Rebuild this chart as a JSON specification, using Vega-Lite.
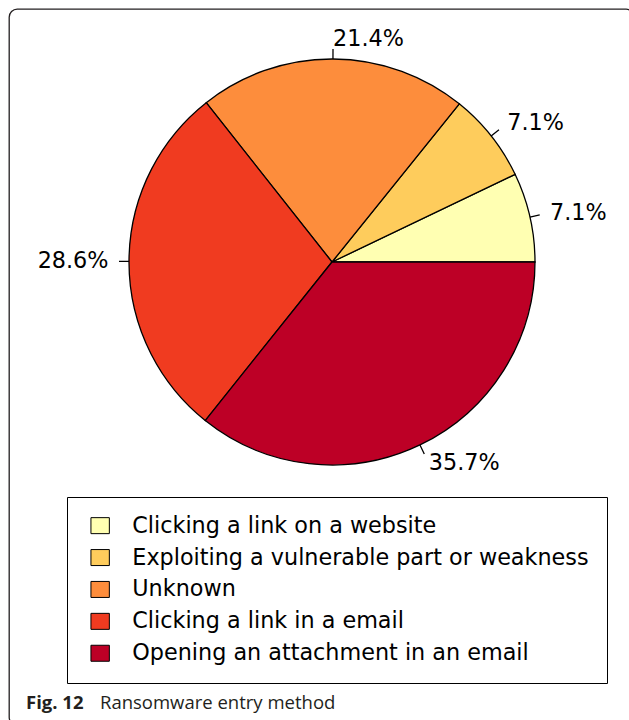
{
  "$schema": "https://vega.github.io/schema/vega-lite/v6.json",
  "width": 625,
  "height": 716,
  "autosize": {"type": "none"},
  "padding": {"left": 9, "top": 9, "right": -5, "bottom": -5},
  "background": "white",
  "view": {"stroke": "#231f20", "strokeWidth": 1.3, "cornerRadius": 8, "fill": "white"},
  "data": {
    "values": [
      {"id": 1, "method": "Clicking a link on a website", "percent": 7.1, "label": "7.1%"},
      {"id": 2, "method": "Exploiting a vulnerable part or weakness", "percent": 7.1, "label": "7.1%"},
      {"id": 3, "method": "Unknown", "percent": 21.4, "label": "21.4%"},
      {"id": 4, "method": "Clicking a link in a email", "percent": 28.6, "label": "28.6%"},
      {"id": 5, "method": "Opening an attachment in an email", "percent": 35.7, "label": "35.7%"}
    ]
  },
  "title": {
    "text": "Ransomware entry method",
    "subtitle": "Fig. 12",
    "orient": "bottom",
    "anchor": "start",
    "frame": "group",
    "font": "Open Sans",
    "fontSize": 18.5,
    "fontWeight": "normal",
    "color": "#231f20",
    "subtitleFont": "Open Sans",
    "subtitleFontSize": 18.5,
    "subtitleFontWeight": "bold",
    "subtitleColor": "#231f20",
    "subtitlePadding": -18.5,
    "offset": -31,
    "dx": 17,
    "encoding": {"dx": {"value": 91}}
  },
  "encoding": {
    "theta": {"field": "percent", "type": "quantitative", "stack": true, "scale": {"range": [-4.712389, 1.570796]}},
    "order": {"field": "id", "type": "quantitative", "sort": "descending"}
  },
  "layer": [
    {
      "mark": {"type": "arc", "outerRadius": 203, "stroke": "black", "strokeWidth": 1.3, "xOffset": 10.5, "yOffset": -105},
      "encoding": {
        "color": {
          "field": "method",
          "type": "nominal",
          "scale": {
            "domain": ["Clicking a link on a website", "Exploiting a vulnerable part or weakness", "Unknown", "Clicking a link in a email", "Opening an attachment in an email"],
            "range": ["#FFFFB2", "#FECC5C", "#FD8D3C", "#F03B20", "#BD0026"]
          },
          "legend": {
            "orient": "none",
            "legendX": 58,
            "legendY": 488,
            "title": null,
            "direction": "vertical",
            "strokeColor": "black",
            "padding": 17.5,
            "symbolType": "M-1.15,-1H1.15V1H-1.15Z",
            "symbolSize": 256,
            "symbolStrokeColor": "black",
            "symbolStrokeWidth": 1,
            "symbolOpacity": 1,
            "symbolOffset": 4.5,
            "labelFont": "DejaVu Sans",
            "labelFontSize": 22.3,
            "labelColor": "black",
            "labelOffset": 21,
            "labelLimit": 700,
            "rowPadding": 8.9
          }
        }
      }
    },
    {
      "mark": {"type": "arc", "innerRadius": 203, "outerRadius": 213, "padAngle": 3.14159, "color": "black", "stroke": "black", "strokeWidth": 1.3, "xOffset": 10.5, "yOffset": -105}
    },
    {
      "mark": {
        "type": "text",
        "radius": 223.5,
        "font": "DejaVu Sans",
        "fontSize": 22.3,
        "color": "black",
        "baseline": "middle",
        "align": {"expr": "datum.id == 4 ? 'right' : 'left'"},
        "xOffset": 10.5,
        "yOffset": -105
      },
      "encoding": {"text": {"field": "label"}}
    }
  ],
  "config": {
    "view": {"stroke": "#231f20", "strokeWidth": 1.3, "cornerRadius": 8}
  }
}
